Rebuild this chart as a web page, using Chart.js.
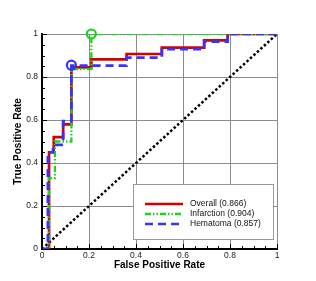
<!DOCTYPE html>
<html>
<head>
<meta charset="utf-8">
<script src="https://cdn.jsdelivr.net/npm/chart.js@4.4.0/dist/chart.umd.min.js"></script>
<style>
  html, body { margin: 0; padding: 0; background: #fff; }
  #wrap { width: 316px; height: 281px; }
</style>
</head>
<body>
<div id="wrap"><canvas id="roc"></canvas></div>
<script>
// ROC curve vertices (false positive rate, true positive rate)
const overallFpr = [0, 0.03, 0.03, 0.05, 0.05, 0.09, 0.09, 0.125, 0.125, 0.21, 0.21, 0.36, 0.36, 0.51, 0.51, 0.69, 0.69, 0.79, 0.79, 1];
const overallTpr = [0, 0, 0.45, 0.45, 0.52, 0.52, 0.58, 0.58, 0.845, 0.845, 0.882, 0.882, 0.907, 0.907, 0.937, 0.937, 0.97, 0.97, 1, 1];

const infarctionFpr = [0, 0.03, 0.03, 0.055, 0.055, 0.125, 0.125, 0.21, 0.21, 1];
const infarctionTpr = [0, 0, 0.33, 0.33, 0.5, 0.5, 0.837, 0.837, 1, 1];

const hematomaFpr = [0, 0.025, 0.025, 0.047, 0.047, 0.09, 0.09, 0.125, 0.125, 0.36, 0.36, 0.51, 0.51, 0.69, 0.69, 0.79, 0.79, 1];
const hematomaTpr = [0, 0, 0.45, 0.45, 0.484, 0.484, 0.595, 0.595, 0.853, 0.853, 0.89, 0.89, 0.93, 0.93, 0.965, 0.965, 1, 1];

// chance line
const chanceFpr = [0, 1];
const chanceTpr = [0, 1];

// operating points marked with circles
const hematomaPoint = [0.125, 0.855];
const infarctionPoint = [0.21, 1.0];

const legendLabels = ['Overall (0.866)', 'Infarction (0.904)', 'Hematoma (0.857)'];
const tickValues = [0, 0.2, 0.4, 0.6, 0.8, 1];
const minorStep = 0.05;

function pts(xs, ys) {
    return xs.map((x, i) => ({ x: x, y: ys[i] }));
}

const red = '#d40000';
const green = '#1ed21e';
const blue = '#3434ff';
const greenDash = [6, 2, 1.5, 2, 1.5, 2];
const blueDash = [8, 5];

// little tick marks pointing into the plot, like the original
const innerTicks = {
    id: 'innerTicks',
    afterDatasetsDraw(chart) {
        const ctx = chart.ctx;
        const area = chart.chartArea;
        const xs = chart.scales.x;
        const ys = chart.scales.y;
        ctx.save();
        ctx.strokeStyle = '#000';
        ctx.lineWidth = 1;
        for (let i = 0; i <= Math.round(1 / minorStep); i++) {
            const v = i * minorStep;
            const major = i % 4 === 0;
            const len = major ? 5 : 3;
            const px = Math.round(xs.getPixelForValue(v)) + 0.5;
            const py = Math.round(ys.getPixelForValue(v)) + 0.5;
            ctx.beginPath();
            ctx.moveTo(px, area.bottom);
            ctx.lineTo(px, area.bottom - len);
            ctx.moveTo(area.left, py);
            ctx.lineTo(area.left + len, py);
            ctx.stroke();
        }
        ctx.restore();
    }
};

// legend box inside the plot, bottom right
const boxLegend = {
    id: 'boxLegend',
    afterDraw(chart) {
        const ctx = chart.ctx;
        const left = 133.5, top = 184.5, w = 140, h = 55;
        ctx.save();
        ctx.fillStyle = '#fff';
        ctx.fillRect(left, top, w, h);
        ctx.strokeStyle = '#999';
        ctx.lineWidth = 1;
        ctx.strokeRect(left, top, w, h);
        const styles = [
            { color: red, dash: [], width: 2.7 },
            { color: green, dash: greenDash, width: 2.3 },
            { color: blue, dash: blueDash, width: 2.7 }
        ];
        ctx.font = '8.5px "Liberation Sans", Arial, sans-serif';
        ctx.textBaseline = 'middle';
        legendLabels.forEach((lab, i) => {
            const y = 204 + i * 10;
            ctx.beginPath();
            ctx.strokeStyle = styles[i].color;
            ctx.lineWidth = styles[i].width;
            ctx.setLineDash(styles[i].dash);
            ctx.moveTo(145, y);
            ctx.lineTo(183, y);
            ctx.stroke();
            ctx.setLineDash([]);
            ctx.fillStyle = '#111';
            ctx.fillText(lab, 190, y);
        });
        ctx.restore();
    }
};

const tickFont = { family: '"Liberation Sans", Arial, sans-serif', size: 8.5 };
const titleFont = { family: '"Liberation Sans", Arial, sans-serif', size: 10, weight: 'bold' };

// lower "order" is drawn on top: markers, then blue, green, red, diagonal at the bottom
new Chart(document.getElementById('roc'), {
    type: 'scatter',
    data: {
        datasets: [
            {
                data: pts(chanceFpr, chanceTpr), showLine: true, order: 5,
                borderColor: '#000', borderWidth: 2.5, borderDash: [2.5, 2.2],
                pointRadius: 0
            },
            {
                label: legendLabels[0], data: pts(overallFpr, overallTpr), showLine: true, order: 4,
                borderColor: red, borderWidth: 2.7, pointRadius: 0
            },
            {
                label: legendLabels[1], data: pts(infarctionFpr, infarctionTpr), showLine: true, order: 3,
                borderColor: green, borderWidth: 2.3, borderDash: greenDash, pointRadius: 0
            },
            {
                label: legendLabels[2], data: pts(hematomaFpr, hematomaTpr), showLine: true, order: 2,
                borderColor: blue, borderWidth: 2.7, borderDash: blueDash, pointRadius: 0
            },
            {
                data: [{ x: hematomaPoint[0], y: hematomaPoint[1] }], order: 1,
                pointRadius: 4.5, pointBorderWidth: 2.2, pointBorderColor: blue,
                pointBackgroundColor: 'rgba(0,0,0,0)', clip: false
            },
            {
                data: [{ x: infarctionPoint[0], y: infarctionPoint[1] }], order: 0,
                pointRadius: 4.5, pointBorderWidth: 2.2, pointBorderColor: green,
                pointBackgroundColor: 'rgba(0,0,0,0)', clip: false
            }
        ]
    },
    options: {
        responsive: true,
        maintainAspectRatio: false,
        animation: false,
        layout: { padding: { top: 34, right: 39, left: 0, bottom: 0 } },
        plugins: { legend: { display: false }, tooltip: { enabled: false } },
        scales: {
            x: {
                type: 'linear', min: 0, max: 1,
                afterFit: s => { s.height = 32; },
                afterBuildTicks: s => { s.ticks = tickValues.map(v => ({ value: v })); },
                ticks: { font: tickFont, color: '#222', padding: 2, maxRotation: 0,
                         callback: v => String(+v.toFixed(1)) },
                grid: { color: '#8c8c8c', lineWidth: 1, drawTicks: false },
                border: { color: '#000', width: 2 },
                title: { display: true, text: 'False Positive Rate', font: titleFont, color: '#000',
                         padding: { top: 0, bottom: 10 } }
            },
            y: {
                type: 'linear', min: 0, max: 1,
                afterFit: s => { s.width = 42; },
                afterBuildTicks: s => { s.ticks = tickValues.map(v => ({ value: v })); },
                ticks: { font: tickFont, color: '#222', padding: 4,
                         callback: v => String(+v.toFixed(1)) },
                grid: { color: '#8c8c8c', lineWidth: 1, drawTicks: false },
                border: { color: '#000', width: 2 },
                title: { display: true, text: 'True Positive Rate', font: titleFont, color: '#000',
                         padding: { top: 12, bottom: 0 } }
            }
        }
    },
    plugins: [innerTicks, boxLegend]
});
</script>
</body>
</html>
